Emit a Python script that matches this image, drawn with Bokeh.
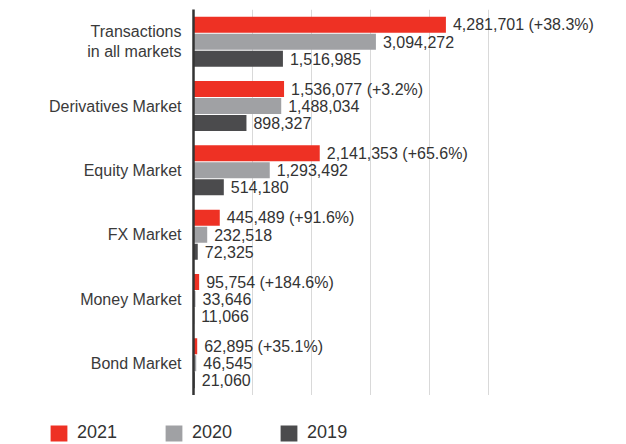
from bokeh.plotting import figure
from bokeh.models import FactorRange, Range1d, ColumnDataSource, FixedTicker, Legend, LegendItem
from bokeh.transform import dodge
from bokeh.core.properties import value
from bokeh.embed import file_html
from bokeh.resources import INLINE

categories = ["Transactions\nin all markets", "Derivatives Market", "Equity Market",
              "FX Market", "Money Market", "Bond Market"]
years = ["2021", "2020", "2019"]
v2021 = [4281701, 1536077, 2141353, 445489, 95754, 62895]
v2020 = [3094272, 1488034, 1293492, 232518, 33646, 46545]
v2019 = [1516985, 898327, 514180, 72325, 11066, 21060]
chg2021 = ["+38.3%", "+3.2%", "+65.6%", "+91.6%", "+184.6%", "+35.1%"]
grid_ticks = [1000000, 2000000, 3000000, 4000000, 5000000]

colors = ["#EE3124", "#A0A1A4", "#4B4B4D"]
FONT = "Liberation Sans"
TXT = "#333333"

src = ColumnDataSource(dict(
    cat=categories,
    v2021=v2021, v2020=v2020, v2019=v2019,
    l2021=[f"{v:,} ({c})" for v, c in zip(v2021, chg2021)],
    l2020=[f"{v:,}" for v in v2020],
    l2019=[f"{v:,}" for v in v2019],
))

p = figure(width=626, height=395,
           y_range=FactorRange(factors=categories[::-1], range_padding=0),
           x_range=Range1d(0, 7.345e6),
           output_backend="svg", toolbar_location=None,
           min_border_left=193, min_border_right=0, min_border_top=9,
           min_border_bottom=0)

offsets = [0.264, 0.0, -0.264]
for yr, col, off in zip(years, colors, offsets):
    p.hbar(y=dodge("cat", off, range=p.y_range), right="v" + yr, left=0,
           height=0.249, source=src, fill_color=col, line_color=None)
    p.text(x="v" + yr, y=dodge("cat", off, range=p.y_range), text="l" + yr, source=src,
           x_offset=7, text_align="left", text_baseline="middle",
           text_font=value(FONT), text_font_size="16px", text_color=TXT)

p.xaxis.visible = False
p.xgrid.ticker = FixedTicker(ticks=grid_ticks)
p.xgrid.grid_line_color = "#D9D9D9"
p.xgrid.grid_line_width = 1
p.ygrid.visible = False
p.outline_line_color = None

ax = p.yaxis[0]
ax.axis_line_color = "#333333"
ax.axis_line_width = 2.5
ax.major_tick_line_color = None
ax.minor_tick_line_color = None
ax.major_label_text_font = FONT
ax.major_label_text_font_size = "16px"
ax.major_label_text_color = "#3a3a3a"
ax.major_label_standoff = 6

# legend strip below the chart (its own swatch renderers have zero-width bars)
lg = figure(width=626, height=49, output_backend="svg", toolbar_location=None,
            min_border=0, x_axis_location=None, y_axis_location=None,
            x_range=Range1d(0, 1), y_range=Range1d(0, 1))
lg.grid.visible = False
lg.outline_line_color = None
swatch = ColumnDataSource(dict(y=[0], r=[0]))
items = []
for yr, col in zip(years, colors):
    r = lg.hbar(y="y", right="r", left="r", height=0, source=swatch,
                fill_color=col, line_color=None)
    items.append(LegendItem(label=yr, renderers=[r]))

legend = Legend(items=items, orientation="horizontal", location=(48, 1), padding=0, margin=0,
                border_line_color=None, background_fill_alpha=0,
                glyph_width=21, glyph_height=20, label_standoff=8, spacing=46,
                label_text_font=FONT, label_text_font_size="18px",
                label_text_color=TXT, label_height=18)
lg.add_layout(legend)

open("out.html", "w").write(file_html((p, lg), INLINE))
